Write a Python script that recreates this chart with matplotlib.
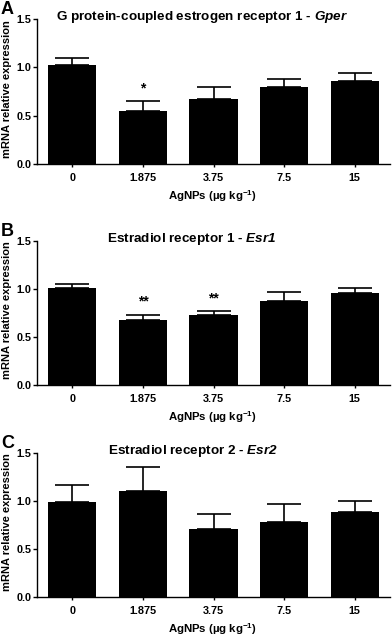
import numpy as np
import matplotlib
matplotlib.use('Agg')
import matplotlib.pyplot as plt

plt.rcParams['font.family'] = ['Liberation Sans', 'DejaVu Sans']
plt.rcParams['font.weight'] = 'bold'
plt.rcParams['mathtext.fontset'] = 'custom'
plt.rcParams['mathtext.rm'] = 'Liberation Sans:bold'
plt.rcParams['mathtext.bf'] = 'Liberation Sans:bold'
plt.rcParams['mathtext.it'] = 'Liberation Sans:italic:bold'
plt.rcParams['mathtext.bfit'] = 'Liberation Sans:italic:bold'
plt.rcParams['mathtext.default'] = 'bf'

doses = ['0', '1.875', '3.75', '7.5', '15']

gper_mean = [1.027, 0.55, 0.677, 0.795, 0.854]
gper_sem = [0.069, 0.103, 0.123, 0.083, 0.09]
gper_stars = ['', '*', '', '', '']

esr1_mean = [1.011, 0.675, 0.731, 0.88, 0.959]
esr1_sem = [0.042, 0.059, 0.041, 0.093, 0.052]
esr1_stars = ['', '**', '**', '', '']

esr2_mean = [0.99, 1.10, 0.713, 0.786, 0.883]
esr2_sem = [0.174, 0.254, 0.153, 0.184, 0.118]
esr2_stars = ['', '', '', '', '']

panels = [
    ('A', 'G protein-coupled estrogen receptor 1 - $\\mathbfit{Gper}$', gper_mean, gper_sem, gper_stars),
    ('B', 'Estradiol receptor 1 - $\\mathbfit{Esr1}$', esr1_mean, esr1_sem, esr1_stars),
    ('C', 'Estradiol receptor 2 - $\\mathbfit{Esr2}$', esr2_mean, esr2_sem, esr2_stars),
]

W, H = 392, 636
fig = plt.figure(figsize=(W / 100, H / 100), dpi=100)

# (top, bottom) of each axes in pixels
boxes = [(19, 164), (241, 385), (453, 597)]
title_x = [202, 192, 193]
left, right = 37, 390

for (letter, title, mean, sem, stars), (top, bot), tx in zip(panels, boxes, title_x):
    ax = fig.add_axes([left / W, 1 - bot / H, (right - left) / W, (bot - top) / H])
    x = np.arange(len(doses))
    ax.bar(x, mean, width=0.68, color='black', zorder=3,
           yerr=[np.zeros(len(sem)), sem], capsize=12,
           error_kw=dict(ecolor='black', elinewidth=1.2, capthick=1.2, zorder=2))
    for xi, m, s, st in zip(x, mean, sem, stars):
        if st:
            ax.text(xi, m + s + 0.06, st, ha='center', va='bottom', fontsize=10, fontweight='bold')
    ax.set_xlim(-0.5, 4.5)
    ax.set_ylim(0, 1.5)
    ax.set_yticks([0, 0.5, 1.0, 1.5])
    ax.set_yticklabels(['0.0', '0.5', '1.0', '1.5'])
    ax.set_xticks(x)
    ax.set_xticklabels(doses)
    for sp in ['top', 'right']:
        ax.spines[sp].set_visible(False)
    for sp in ['left', 'bottom']:
        ax.spines[sp].set_linewidth(1.0)
    ax.tick_params(axis='y', length=3, width=1.0, pad=1, labelsize=7.8)
    ax.tick_params(axis='x', length=2.5, width=1.0, pad=4, labelsize=7.8)
    ax.set_ylabel('mRNA relative expression', fontsize=8, fontweight='bold')
    ax.yaxis.set_label_coords((12 - left) / (right - left), 0.52)
    ax.set_xlabel('AgNPs (µg kg$^{-1}$)', fontsize=8.2, fontweight='bold')
    ax.xaxis.set_label_coords(0.496, -24 / (bot - top))
    fig.text(tx / W, 1 - (top - 2) / H, title, ha='center', va='center', fontsize=9.7, fontweight='bold')
    fig.text(1 / W, 1 - (top - 9) / H, letter, ha='left', va='center', fontsize=13, fontweight='bold')

fig.savefig('out.png', dpi=100)
